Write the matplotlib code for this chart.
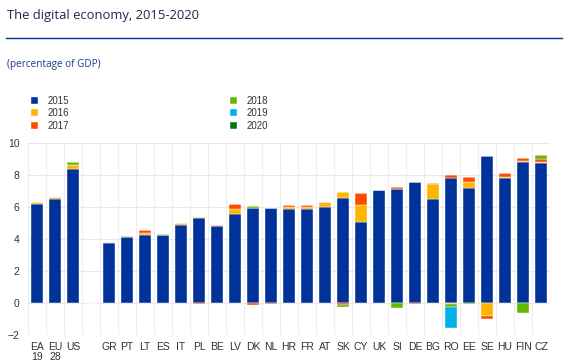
import numpy as np
import matplotlib.pyplot as plt
from matplotlib.lines import Line2D

plt.rcParams['font.family'] = ['Liberation Sans', 'DejaVu Sans']

# categories (blank slot separates the aggregates from the countries)
countries = ['EA\n19', 'EU\n28', 'US', '', 'GR', 'PT', 'LT', 'ES', 'IT', 'PL', 'BE', 'LV',
             'DK', 'NL', 'HR', 'FR', 'AT', 'SK', 'CY', 'UK', 'SI', 'DE', 'BG', 'RO',
             'EE', 'SE', 'HU', 'FIN', 'CZ']

# contributions, percentage of GDP
y2015 = [6.2, 6.5, 8.4, 0, 3.75, 4.1, 4.25, 4.25, 4.9, 5.3, 4.8, 5.55,
         5.95, 5.95, 5.9, 5.9, 6.0, 6.55, 5.05, 7.05, 7.15, 7.55, 6.5, 7.8,
         7.2, 9.2, 7.8, 8.8, 8.75]
y2016 = [0.1, 0.1, 0.25, 0, 0.05, 0, 0.15, 0, 0.1, 0.1, 0, 0.3,
         0, 0, 0.1, 0.1, 0.3, 0.4, 1.05, 0, 0, 0, 0.95, -0.08,
         0.35, -0.8, 0.1, 0.1, 0.05]
y2017 = [0, 0, 0, 0, 0, 0.1, 0.15, 0, 0, -0.05, 0.1, 0.35,
         -0.1, -0.05, 0.15, 0.12, 0, -0.1, 0.75, 0, 0.1, -0.05, 0.08, 0.2,
         0.33, -0.2, 0.2, 0.15, 0.2]
y2018 = [0, 0, 0.15, 0, 0, 0, 0, 0.08, 0, 0, 0, 0,
         0.12, 0, 0, 0, 0.03, -0.15, 0, 0, -0.3, 0, 0, -0.17,
         -0.05, 0, 0.05, -0.6, 0.25]
y2019 = [0, 0, 0, 0, 0, 0, 0, 0, 0, 0, 0, 0,
         0, 0, 0, 0, 0, 0, 0, 0, 0, 0, 0, -1.3,
         0, 0, 0, 0, 0]
y2020 = [0] * len(countries)

years = ['2015', '2016', '2017', '2018', '2019', '2020']
series = [y2015, y2016, y2017, y2018, y2019, y2020]
colors = ['#003299', '#ffb400', '#ff4b00', '#65b800', '#00b1ea', '#007816']

fig = plt.figure(figsize=(5.66, 3.61), dpi=100)
ax = fig.add_axes([28/566, 1 - 335/361, 522/566, 192/361])

x = np.arange(len(countries))
pos_bottom = np.zeros(len(countries))
neg_bottom = np.zeros(len(countries))
handles = []
for vals, col, yr in zip(series, colors, years):
    v = np.array(vals, dtype=float)
    bottom = np.where(v >= 0, pos_bottom, neg_bottom)
    b = ax.bar(x, v, 0.68, bottom=bottom, color=col, label=yr,
               edgecolor='white', linewidth=0.3, zorder=3)
    handles.append(b)
    pos_bottom += np.clip(v, 0, None)
    neg_bottom += np.clip(v, None, 0)

ax.set_xlim(-0.5, len(countries) - 0.5)
ax.set_ylim(-2, 10)
ax.set_yticks(range(-2, 11, 2))
ax.set_xticks(x)
ax.set_xticklabels(countries)
ax.set_xticks(np.arange(-0.5, len(countries), 1), minor=True)
ax.tick_params(axis='both', which='both', length=0, labelsize=7.5, colors='#333333')
ax.tick_params(axis='x', pad=5)
ax.tick_params(axis='y', pad=6)
ax.grid(axis='y', which='major', color='#e8e8e8', linewidth=0.8, zorder=0)
ax.grid(axis='x', which='minor', color='#eeeeee', linewidth=0.8, zorder=0)
for s in ax.spines.values():
    s.set_visible(False)
for lab in ax.get_xticklabels():
    lab.set_linespacing(0.95)

fig.text(7/566, 1 - 15/361, 'The digital economy, 2015-2020', fontsize=9.4,
         color='#1a2a4f', va='center', ha='left', family='Open Sans')
fig.add_artist(Line2D([6/566, 562/566], [1 - 38/361, 1 - 38/361],
                      transform=fig.transFigure, color='#003299', linewidth=1))
fig.text(7/566, 1 - 65/361, '(percentage of GDP)', fontsize=7.2,
         color='#1e3a8a', va='center', ha='left', family='Open Sans')

fig.legend(handles=handles, labels=years, ncol=2, loc='upper left',
           bbox_to_anchor=(22/566, 1 - 87/361), frameon=False, fontsize=7,
           handlelength=0.75, handleheight=0.75, handletextpad=1.0,
           columnspacing=16.5, labelspacing=0.25, labelcolor='#333333')

fig.savefig('out.png', dpi=100)
